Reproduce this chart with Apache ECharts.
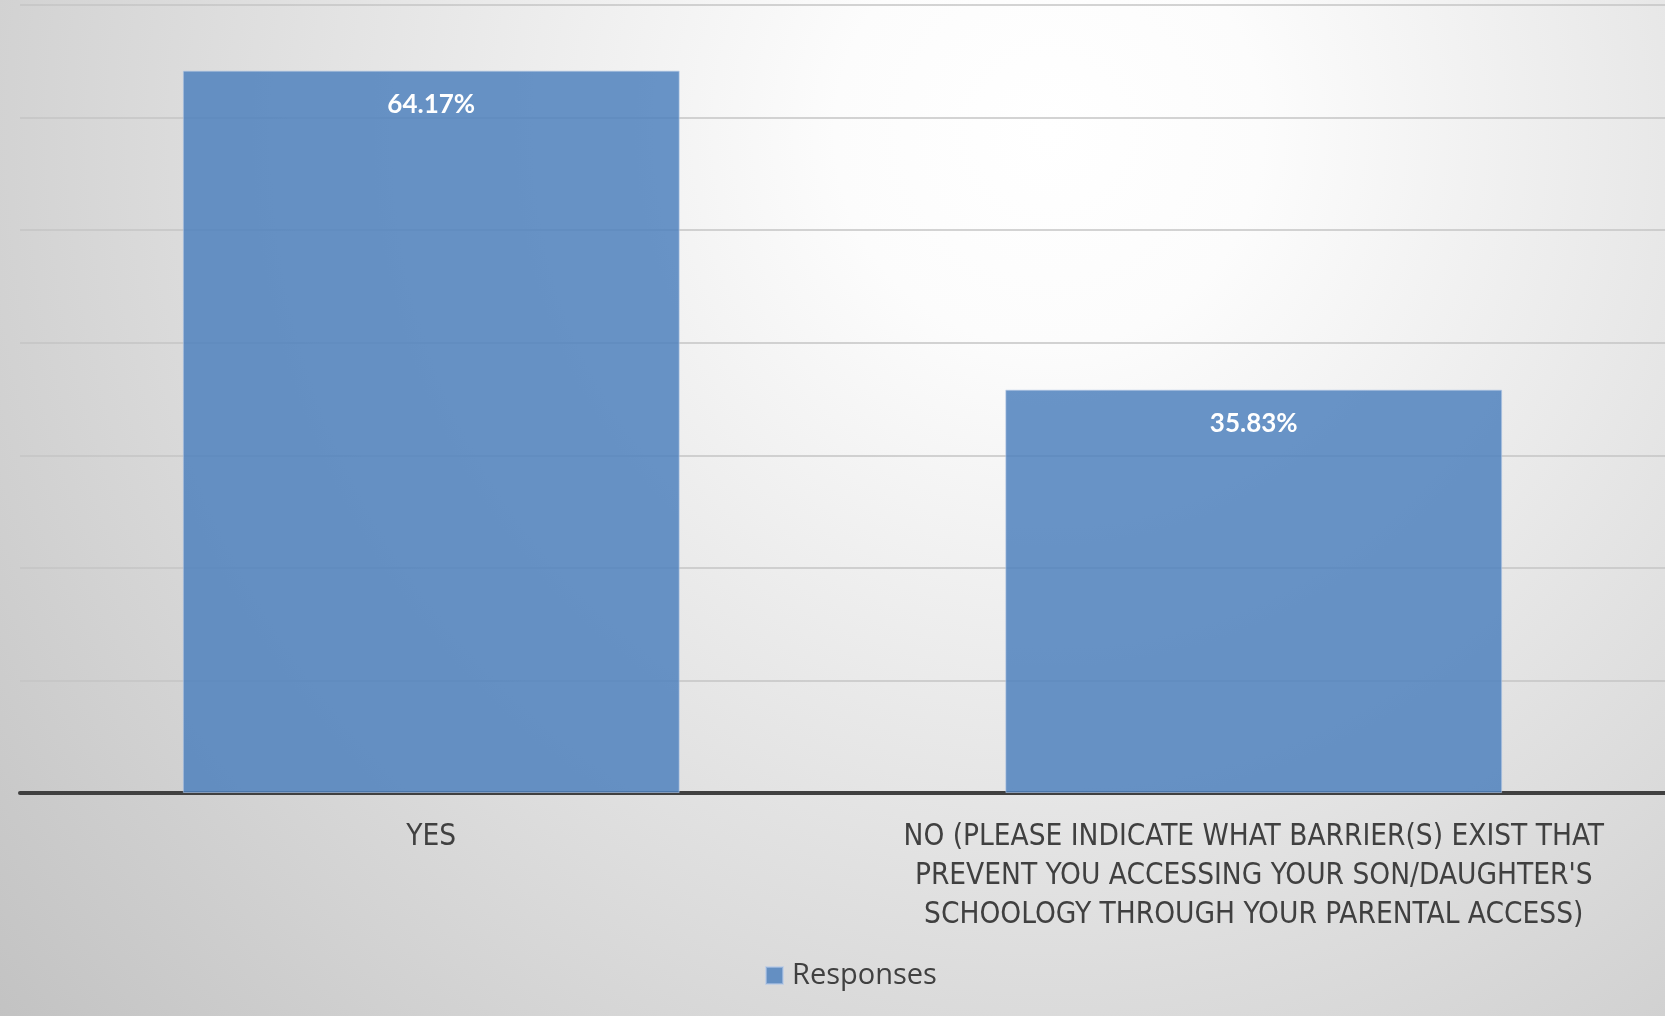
<!DOCTYPE html>
<html><head><meta charset="utf-8">
<script src="https://cdn.jsdelivr.net/npm/echarts@6/dist/echarts.min.js"></script>
<style>html,body{margin:0;padding:0;}#c{width:1665px;height:1016px;}</style>
</head><body><div id="c"></div>
<script>
const categories = ["YES", "NO (PLEASE INDICATE WHAT BARRIER(S) EXIST THAT\nPREVENT YOU ACCESSING YOUR SON/DAUGHTER'S\nSCHOOLOGY THROUGH YOUR PARENTAL ACCESS)"];
const responses = [0.6417, 0.3583];
const seriesName = "Responses";

const chart = echarts.init(document.getElementById('c'));
chart.setOption({
  backgroundColor: {type:'radial', x:0.63, y:0.13, r:1.4, colorStops:[
    {offset:0, color:'#ffffff'},{offset:0.15, color:'#fcfcfc'},{offset:1, color:'#c0c0c0'}]},
  animation:false,
  legend:{show:true, bottom:21, left:760, itemWidth:17, itemHeight:17, itemGap:9,
    icon:'rect', textStyle:{fontFamily:'Open Sans', fontSize:29, color:'#404040', padding:[0,0,0,4]}},
  grid:{left:20, right:0, top:5, bottom:223},
  xAxis:{type:'category', data:categories,
    axisLine:{lineStyle:{color:'#404040', width:4}}, axisTick:{show:false},
    axisLabel:{fontFamily:'Liberation Sans Narrow, DejaVu Sans Condensed', fontSize:29.5, color:'#404040', lineHeight:39, margin:25, interval:0}},
  yAxis:{type:'value', min:0, max:0.7, interval:0.1, axisLabel:{show:false}, axisLine:{show:false}, axisTick:{show:false},
    splitLine:{lineStyle:{color:'#c4c4c4', width:1.5}}},
  series:[{type:'bar', name:seriesName, data:responses, barWidth:'60.4%',
    itemStyle:{color:'rgba(79,129,189,0.85)', borderColor:'rgba(180,200,230,0.6)', borderWidth:1},
    label:{show:true, position:'insideTop', distance:21, fontFamily:'Lato', fontWeight:'bold', fontSize:26, color:'#ffffff',
      formatter:p=>(p.value*100).toFixed(2)+'%'}}]
});
</script></body></html>
